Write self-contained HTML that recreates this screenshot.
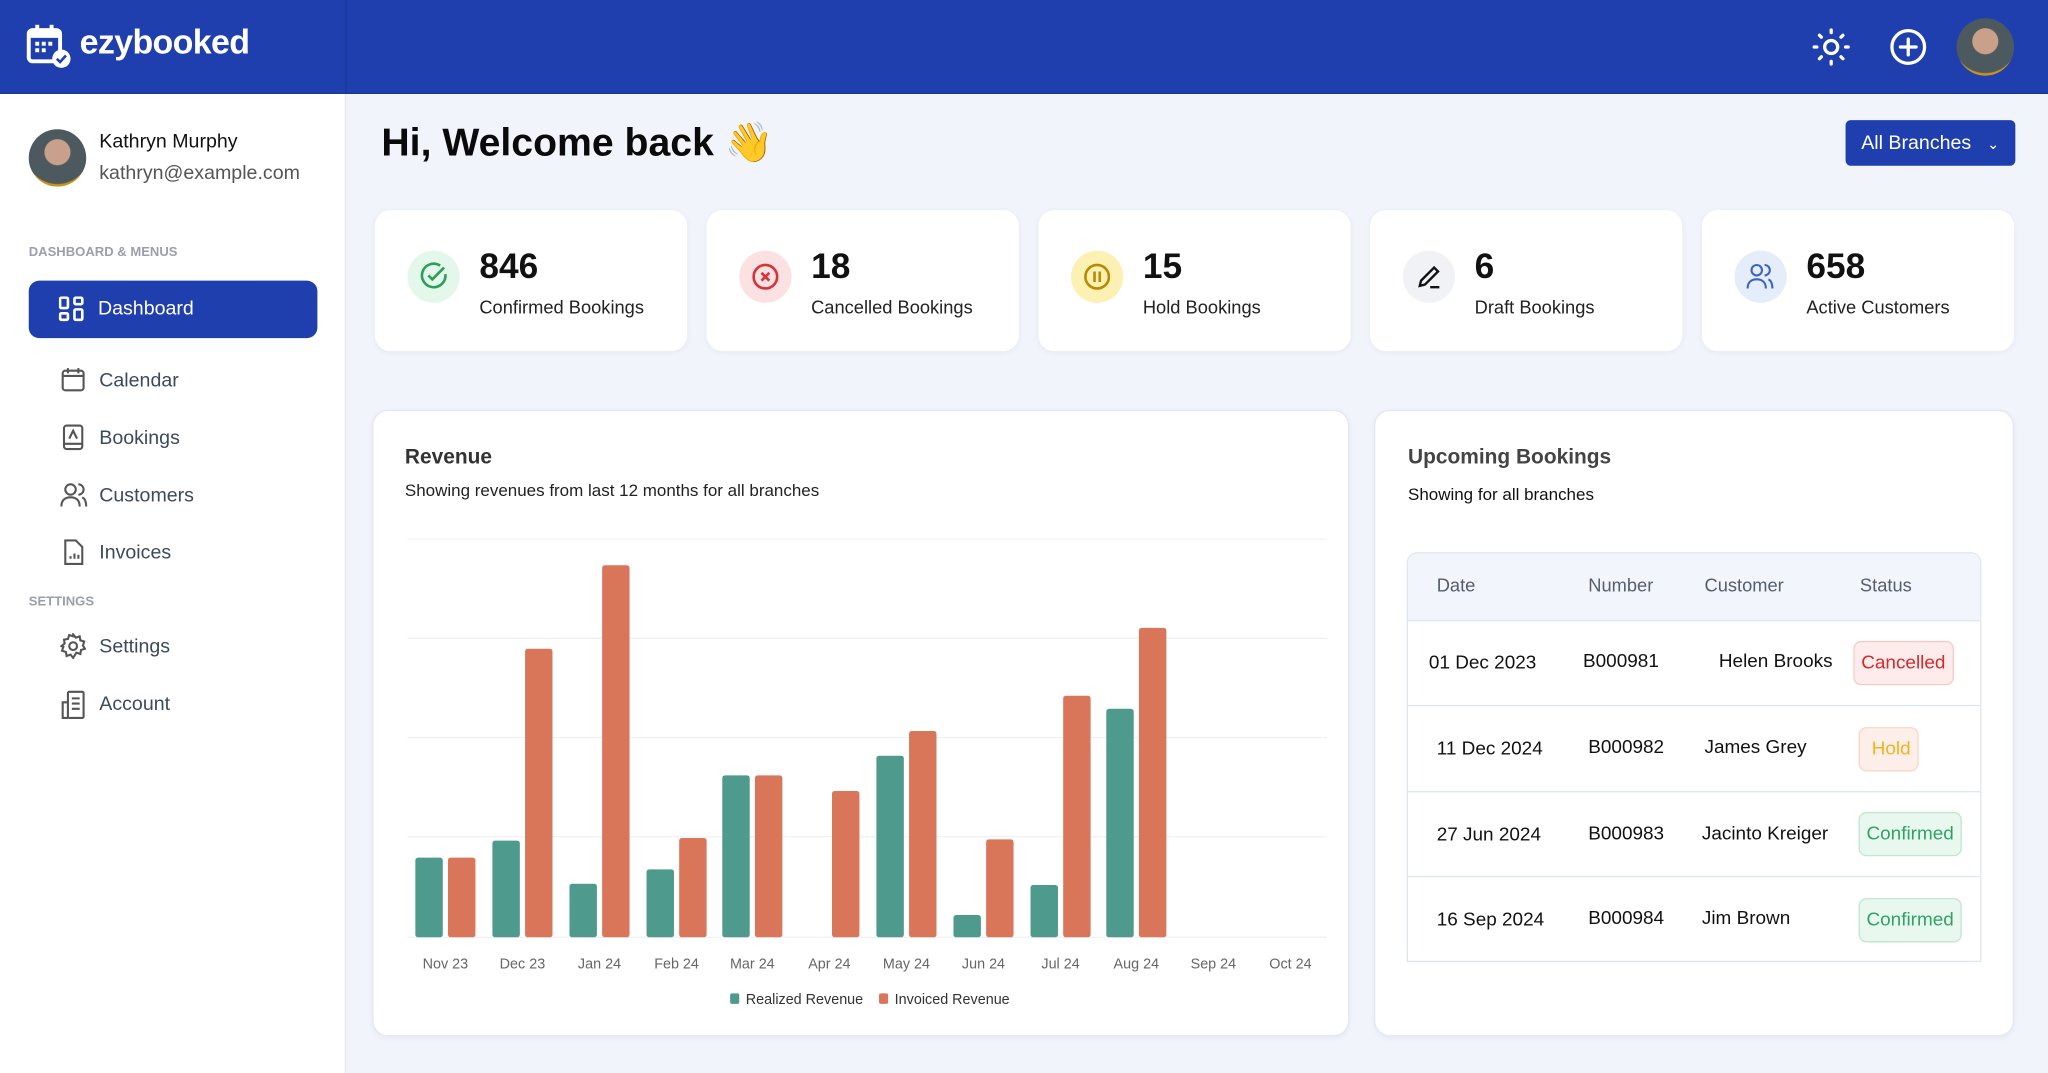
<!DOCTYPE html>
<html><head><meta charset="utf-8"><style>
html,body{margin:0;padding:0;width:2048px;height:1073px;overflow:hidden;background:#f1f4fb;}
#w{position:absolute;left:0;top:0;width:1568px;height:822px;transform:scale(1.30612,1.30535);transform-origin:0 0;font-family:"Liberation Sans",sans-serif;color:#111;}
.a{position:absolute;}
.card{position:absolute;background:#fff;border-radius:12px;box-shadow:0 1px 4px rgba(30,50,120,0.06);}
.stat .ic{position:absolute;left:25px;top:31px;width:40px;height:40px;border-radius:50%;}
.stat .n{position:absolute;left:80px;top:28px;font-size:27px;font-weight:bold;}
.stat .l{position:absolute;left:80px;top:66px;font-size:14px;color:#222;}
.nav{position:absolute;left:76px;font-size:15px;color:#3c4a5c;}
.ni{position:absolute;left:46px;}
.th{position:absolute;top:440px;font-size:14px;color:#555e6c;}
.td{position:absolute;font-size:14.5px;color:#111;}
.badge{position:absolute;border-radius:6px;font-size:14.5px;padding:0 5px;height:32px;line-height:32px;}
</style></head><body><div id="w">
<!-- header -->
<div class="a" style="left:0;top:0;width:1568px;height:71px;background:#1f3fae;border-bottom:1px solid #1a3596"></div>
<div class="a" style="left:264px;top:0;width:2px;height:71px;background:#1c3aa4"></div>
<svg class="a" style="left:20px;top:18px" width="36" height="36" viewBox="0 0 36 36"><rect x="2" y="5" width="24" height="24" rx="3" fill="none" stroke="#fff" stroke-width="3"/><rect x="2" y="5" width="24" height="6" fill="#fff"/><rect x="7" y="1" width="3" height="7" fill="#fff"/><rect x="18" y="1" width="3" height="7" fill="#fff"/><g fill="#fff"><rect x="7" y="14" width="3" height="3"/><rect x="12" y="14" width="3" height="3"/><rect x="17" y="14" width="3" height="3"/><rect x="7" y="19" width="3" height="3"/><rect x="12" y="19" width="3" height="3"/></g><circle cx="27" cy="27" r="7" fill="#fff"/><path d="M23.5 27l2.5 2.5 4.5-5" stroke="#1f3fae" stroke-width="2" fill="none"/></svg>
<div class="a" style="left:61px;top:17px;font-size:26px;font-weight:bold;color:#fff;letter-spacing:-0.5px">ezybooked</div>
<svg class="a" style="left:1386px;top:20px" width="32" height="32" viewBox="0 0 32 32"><circle cx="16" cy="16" r="5" fill="none" stroke="#fff" stroke-width="2.5"/><g stroke="#fff" stroke-width="2.5" stroke-linecap="round"><path d="M16 3v2M16 27v2M3 16h2M27 16h2M7 7l1.5 1.5M23.5 23.5L25 25M7 25l1.5-1.5M23.5 8.5L25 7"/></g></svg>
<svg class="a" style="left:1445px;top:20px" width="32" height="32" viewBox="0 0 32 32"><circle cx="16" cy="16" r="12.5" fill="none" stroke="#fff" stroke-width="2.5"/><path d="M16 10v12M10 16h12" stroke="#fff" stroke-width="2.5" stroke-linecap="round"/></svg>
<div class="a" style="left:1498px;top:14px;width:44px;height:44px;border-radius:50%;background:radial-gradient(circle at 50% 40%,#c9a08a 0 28%,#4c5a60 30% 70%,#c9941a 72%)"></div>
<!-- sidebar -->
<div class="a" style="left:0;top:72px;width:264px;height:750px;background:#fff;border-right:1px solid #e3e8f2"></div>
<div class="a" style="left:22px;top:99px;width:44px;height:44px;border-radius:50%;background:radial-gradient(circle at 50% 40%,#c9a08a 0 28%,#4c5a60 30% 70%,#c9941a 72%)"></div>
<div class="a" style="left:76px;top:100px;font-size:15px;color:#111">Kathryn Murphy</div>
<div class="a" style="left:76px;top:124px;font-size:15px;color:#555">kathryn@example.com</div>
<div class="a" style="left:22px;top:188px;font-size:10px;color:#9aa0aa;font-weight:bold">DASHBOARD &amp; MENUS</div>
<div class="a" style="left:22px;top:215px;width:221px;height:44px;border-radius:8px;background:#1f3fae"></div>
<svg class="a" style="left:45px;top:227px" width="20" height="20" viewBox="0 0 20 20" fill="none" stroke="#fff" stroke-width="2"><rect x="1" y="1" width="6" height="8" rx="1"/><rect x="12" y="1" width="6" height="5" rx="1"/><rect x="1" y="13" width="6" height="5" rx="1"/><rect x="12" y="10" width="6" height="8" rx="1"/></svg>
<div class="a" style="left:75px;top:228px;font-size:15px;color:#fff">Dashboard</div>
<svg class="ni" style="top:281px" width="20" height="20" viewBox="0 0 20 20" fill="none" stroke="#555" stroke-width="1.6"><rect x="2" y="3" width="16" height="15" rx="2"/><path d="M2 7h16M6 1v4M14 1v4"/></svg>
<div class="nav" style="top:283px">Calendar</div>
<svg class="ni" style="top:325px" width="20" height="20" viewBox="0 0 20 20" fill="none" stroke="#555" stroke-width="1.6"><rect x="3" y="1" width="14" height="18" rx="2"/><path d="M7 11l3-6 3 6M3 15h14"/></svg>
<div class="nav" style="top:327px">Bookings</div>
<svg class="ni" style="top:369px" width="22" height="20" viewBox="0 0 22 20" fill="none" stroke="#555" stroke-width="1.6"><circle cx="8" cy="6" r="4"/><path d="M1 19c0-5 3-7 7-7s7 2 7 7M14 2a4 4 0 010 8M17 12c2 1 3 3 3 7"/></svg>
<div class="nav" style="top:371px">Customers</div>
<svg class="ni" style="top:413px" width="20" height="20" viewBox="0 0 20 20" fill="none" stroke="#555" stroke-width="1.6"><path d="M4 1h8l5 5v13H4z"/><path d="M8 15v-2M11 15v-4M14 15v-3"/></svg>
<div class="nav" style="top:415px">Invoices</div>
<div class="a" style="left:22px;top:456px;font-size:10px;color:#9aa0aa;font-weight:bold">SETTINGS</div>
<svg class="ni" style="top:485px" width="20" height="20" viewBox="0 0 20 20" fill="none" stroke="#555" stroke-width="1.6"><circle cx="10" cy="10" r="3"/><path d="M10 1l2 2.5 3-1 .5 3 3 1-1 3 1.5 2.5-3 1-.5 3-3-1L10 19l-2-2.5-3 1-.5-3-3-1 1-3L1 10l2.5-2-.5-3 3-.5 1-3 3 1z"/></svg>
<div class="nav" style="top:487px">Settings</div>
<svg class="ni" style="top:529px" width="20" height="22" viewBox="0 0 20 22" fill="none" stroke="#555" stroke-width="1.6"><rect x="6" y="1" width="12" height="20" rx="1"/><path d="M6 9H2v12h4M9 6h6M9 10h6M9 14h6"/></svg>
<div class="nav" style="top:531px">Account</div>
<!-- main -->
<div class="a" style="left:292px;top:92px;font-size:30px;font-weight:bold;color:#0a0a0a">Hi, Welcome back 👋</div>
<div class="a" style="left:1413px;top:92px;width:130px;height:35px;border-radius:4px;background:#1f3fae;color:#fff;font-size:15px;line-height:35px;padding-left:12px;box-sizing:border-box">All Branches <span style="margin-left:8px;font-size:11px">&#8964;</span></div>
<!-- stats -->
<div class="card stat" style="left:287px;top:161px;width:239px;height:108px"><div class="ic" style="background:#e3f8ea"></div><svg class="a" style="left:33px;top:39px" width="24" height="24" viewBox="0 0 24 24" fill="none" stroke="#2e9e5b" stroke-width="2"><path d="M21 10a9 9 0 11-4-6.5"/><path d="M8 11l3 3 9-9"/></svg><div class="n">846</div><div class="l">Confirmed Bookings</div></div>
<div class="card stat" style="left:541px;top:161px;width:239px;height:108px"><div class="ic" style="background:#fbe1e1"></div><svg class="a" style="left:34px;top:40px" width="22" height="22" viewBox="0 0 22 22" fill="none" stroke="#d8323a" stroke-width="2"><circle cx="11" cy="11" r="9"/><path d="M8 8l6 6M14 8l-6 6"/></svg><div class="n">18</div><div class="l">Cancelled Bookings</div></div>
<div class="card stat" style="left:795px;top:161px;width:239px;height:108px"><div class="ic" style="background:#fdf0b3"></div><svg class="a" style="left:34px;top:40px" width="22" height="22" viewBox="0 0 22 22" fill="none" stroke="#b88a00" stroke-width="2"><circle cx="11" cy="11" r="9"/><path d="M9 7v8M13 7v8"/></svg><div class="n">15</div><div class="l">Hold Bookings</div></div>
<div class="card stat" style="left:1049px;top:161px;width:239px;height:108px"><div class="ic" style="background:#f1f2f5"></div><svg class="a" style="left:35px;top:40px" width="22" height="22" viewBox="0 0 22 22" fill="none" stroke="#111" stroke-width="1.8"><path d="M3 18l1-4L14 4l3 3L7 17zM11 19h7"/></svg><div class="n">6</div><div class="l">Draft Bookings</div></div>
<div class="card stat" style="left:1303px;top:161px;width:239px;height:108px"><div class="ic" style="background:#e5edfb"></div><svg class="a" style="left:34px;top:40px" width="22" height="22" viewBox="0 0 22 22" fill="none" stroke="#3b63c7" stroke-width="1.6"><circle cx="8" cy="6" r="4"/><path d="M1 20c0-5 3-7 7-7s7 2 7 7M14 2a4 4 0 010 8M17 13c2 1 3 3 3 7"/></svg><div class="n">658</div><div class="l">Active Customers</div></div>
<!-- revenue -->
<div class="card" style="left:285px;top:314px;width:748px;height:480px;border:1px solid #e3e8f2;box-sizing:border-box"></div>
<div class="a" style="left:310px;top:342px;font-size:16px;font-weight:bold;color:#333">Revenue</div>
<div class="a" style="left:310px;top:368px;font-size:13px;color:#222">Showing revenues from last 12 months for all branches</div>
<svg class="a" style="left:0;top:0" width="1568" height="822">
<g stroke="#eef0f5" stroke-width="1"><line x1="312" y1="413" x2="1016" y2="413"/><line x1="312" y1="489" x2="1016" y2="489"/><line x1="312" y1="565" x2="1016" y2="565"/><line x1="312" y1="641" x2="1016" y2="641"/><line x1="312" y1="718" x2="1016" y2="718"/></g>
<g fill="#4e9a8c">
<rect x="318" y="657" width="21" height="61" rx="2"/><rect x="377" y="644" width="21" height="74" rx="2"/><rect x="436" y="677" width="21" height="41" rx="2"/><rect x="495" y="666" width="21" height="52" rx="2"/><rect x="553" y="594" width="21" height="124" rx="2"/><rect x="671" y="579" width="21" height="139" rx="2"/><rect x="730" y="701" width="21" height="17" rx="2"/><rect x="789" y="678" width="21" height="40" rx="2"/><rect x="847" y="543" width="21" height="175" rx="2"/>
</g>
<g fill="#d9765a">
<rect x="343" y="657" width="21" height="61" rx="2"/><rect x="402" y="497" width="21" height="221" rx="2"/><rect x="461" y="433" width="21" height="285" rx="2"/><rect x="520" y="642" width="21" height="76" rx="2"/><rect x="578" y="594" width="21" height="124" rx="2"/><rect x="637" y="606" width="21" height="112" rx="2"/><rect x="696" y="560" width="21" height="158" rx="2"/><rect x="755" y="643" width="21" height="75" rx="2"/><rect x="814" y="533" width="21" height="185" rx="2"/><rect x="872" y="481" width="21" height="237" rx="2"/>
</g>
<g font-family="Liberation Sans,sans-serif" font-size="11" fill="#666" text-anchor="middle">
<text x="341" y="742">Nov 23</text><text x="400" y="742">Dec 23</text><text x="459" y="742">Jan 24</text><text x="518" y="742">Feb 24</text><text x="576" y="742">Mar 24</text><text x="635" y="742">Apr 24</text><text x="694" y="742">May 24</text><text x="753" y="742">Jun 24</text><text x="812" y="742">Jul 24</text><text x="870" y="742">Aug 24</text><text x="929" y="742">Sep 24</text><text x="988" y="742">Oct 24</text>
</g>
<rect x="559" y="761" width="7" height="8" rx="1.5" fill="#4e9a8c"/><rect x="673" y="761" width="7" height="8" rx="1.5" fill="#d9765a"/>
<g font-family="Liberation Sans,sans-serif" font-size="11" fill="#333"><text x="571" y="769">Realized Revenue</text><text x="685" y="769">Invoiced Revenue</text></g>
</svg>
<!-- upcoming -->
<div class="card" style="left:1052px;top:314px;width:490px;height:480px;border:1px solid #e3e8f2;box-sizing:border-box"></div>
<div class="a" style="left:1078px;top:342px;font-size:16px;font-weight:bold;color:#444">Upcoming Bookings</div>
<div class="a" style="left:1078px;top:371px;font-size:13px;color:#111">Showing for all branches</div>
<div class="a" style="left:1077px;top:423px;width:440px;height:314px;border:1px solid #dfe6f3;border-radius:8px 8px 0 0;background:#fff;overflow:hidden;box-sizing:border-box">
<div style="height:51px;background:#f2f5fc;border-bottom:1px solid #dfe6f3"></div>
<div style="position:absolute;top:116px;left:0;right:0;border-top:1px solid #dfe6f3"></div>
<div style="position:absolute;top:182px;left:0;right:0;border-top:1px solid #dfe6f3"></div>
<div style="position:absolute;top:247px;left:0;right:0;border-top:1px solid #dfe6f3"></div>
</div>
<div class="th" style="left:1100px">Date</div><div class="th" style="left:1216px">Number</div><div class="th" style="left:1305px">Customer</div><div class="th" style="left:1424px">Status</div>
<div class="td" style="left:1094px;top:500px">01 Dec 2023</div><div class="td" style="left:1212px;top:499px">B000981</div><div class="td" style="left:1316px;top:499px">Helen Brooks</div>
<div class="badge" style="left:1419px;top:491px;background:#fdeceb;border:1px solid #f6c9c9;color:#d42a2a">Cancelled</div>
<div class="td" style="left:1100px;top:566px">11 Dec 2024</div><div class="td" style="left:1216px;top:565px">B000982</div><div class="td" style="left:1305px;top:565px">James Grey</div>
<div class="badge" style="left:1423px;top:557px;background:#fdeeea;border:1px solid #f6d7c6;color:#f2b41c">&nbsp;Hold</div>
<div class="td" style="left:1100px;top:632px">27 Jun 2024</div><div class="td" style="left:1216px;top:631px">B000983</div><div class="td" style="left:1303px;top:631px">Jacinto Kreiger</div>
<div class="badge" style="left:1423px;top:622px;background:#e8f8ef;border:1px solid #bfe6cf;color:#2ea364">Confirmed</div>
<div class="td" style="left:1100px;top:697px">16 Sep 2024</div><div class="td" style="left:1216px;top:696px">B000984</div><div class="td" style="left:1303px;top:696px">Jim Brown</div>
<div class="badge" style="left:1423px;top:688px;background:#e8f8ef;border:1px solid #bfe6cf;color:#2ea364">Confirmed</div>
</div></body></html>
